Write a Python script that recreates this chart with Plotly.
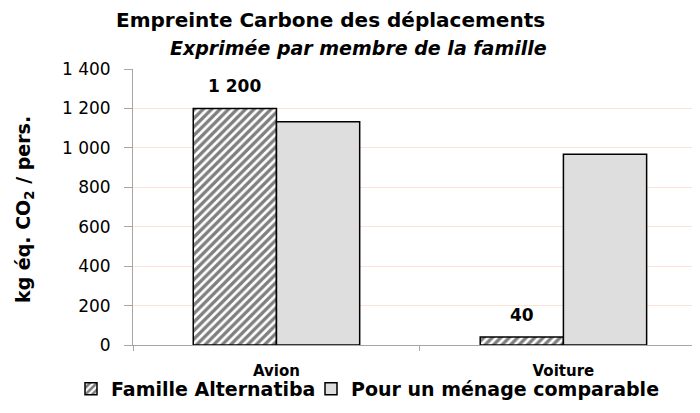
import plotly.graph_objects as go

categories = ["Avion", "Voiture"]
alternatiba = [1200, 40]
comparable = [1132, 968]
series_names = ["Famille Alternatiba", "Pour un ménage comparable"]
tick_vals = [0, 200, 400, 600, 800, 1000, 1200, 1400]

FONT = "DejaVu Sans"
OFF = 8  # page body margin
W, H = 700 - OFF, 413 - OFF
# plot area in page pixels
L, R, T, B = 133, 700, 69, 345
BARGAP = 0.42


def px(x):
    return (x - L) / (R - L)


def py(y):
    return (B - y) / (B - T)


fig = go.Figure()
fig.add_trace(go.Bar(
    x=categories, y=alternatiba, name=series_names[0], legend="legend",
    marker=dict(color="white", line=dict(color="black", width=1.5),
                pattern=dict(shape="/", fgcolor="black", bgcolor="white", size=6, solidity=0.55)),
))
fig.add_trace(go.Bar(
    x=categories, y=comparable, name=series_names[1], legend="legend2",
    marker=dict(color="#DEDEDE", line=dict(color="black", width=1.5)),
))

cat_px = (R - L) / 1.976
annotations = [
    dict(text="<b>Empreinte Carbone des déplacements</b>", x=px(330), y=py(20),
         xref="paper", yref="paper", xanchor="center", yanchor="middle", showarrow=False,
         font=dict(family=FONT, size=20)),
    dict(text="<b><i>Exprimée par membre de la famille</i></b>", x=px(358), y=py(48),
         xref="paper", yref="paper", xanchor="center", yanchor="middle", showarrow=False,
         font=dict(family=FONT, size=19)),
    dict(text="<b>kg éq. CO<sub>2</sub> / pers.</b>", x=px(24), y=py(210),
         xref="paper", yref="paper", xanchor="center", yanchor="middle", showarrow=False,
         textangle=-90, font=dict(family=FONT, size=19)),
]
for c, v in zip(categories, alternatiba):
    annotations.append(dict(
        text="<b>%s</b>" % format(v, ",d").replace(",", " "), x=c, y=v, xref="x", yref="y",
        xshift=-(1 - BARGAP) / 4 * cat_px, yshift=10, xanchor="center", yanchor="bottom",
        showarrow=False, font=dict(family=FONT, size=17, color="black")))

legend_common = dict(orientation="h", xanchor="left", y=py(389), yanchor="middle",
                     font=dict(family=FONT, size=19), itemwidth=30,
                     bgcolor="rgba(0,0,0,0)", tracegroupgap=0)
fig.update_layout(
    width=W, height=H,
    margin=dict(l=L - OFF, r=0, t=T - OFF, b=H - (B - OFF), autoexpand=False),
    paper_bgcolor="white", plot_bgcolor="white",
    separators=", ",
    barmode="group", bargap=BARGAP, bargroupgap=0,
    font=dict(family=FONT, color="black"),
    showlegend=True,
    legend=dict(x=px(71), **legend_common),
    legend2=dict(x=px(311), **legend_common),
    annotations=annotations,
)
fig.for_each_trace(lambda t: t.update(name="<b>%s</b>" % t.name))
fig.update_yaxes(range=[0, 1400], tickvals=tick_vals, tickformat=",d",
                 tickprefix="<b>", ticksuffix="</b>", ticklabelstandoff=10,
                 showgrid=True, gridcolor="#FBE3D6", gridwidth=1,
                 showline=True, linecolor="#A6A6A6", linewidth=1,
                 ticks="outside", ticklen=8, tickcolor="#A6A6A6",
                 tickfont=dict(family=FONT, size=17), zeroline=False)
fig.update_xaxes(range=[-0.5, 1.476], showline=True, linecolor="#A6A6A6", linewidth=1,
                 ticks="outside", tickson="boundaries", ticklen=5, tickcolor="#A6A6A6",
                 tickfont=dict(family=FONT, size=15), ticklabelstandoff=12,
                 tickprefix="<b>", ticksuffix="</b>")

fig.write_html("out.html")
